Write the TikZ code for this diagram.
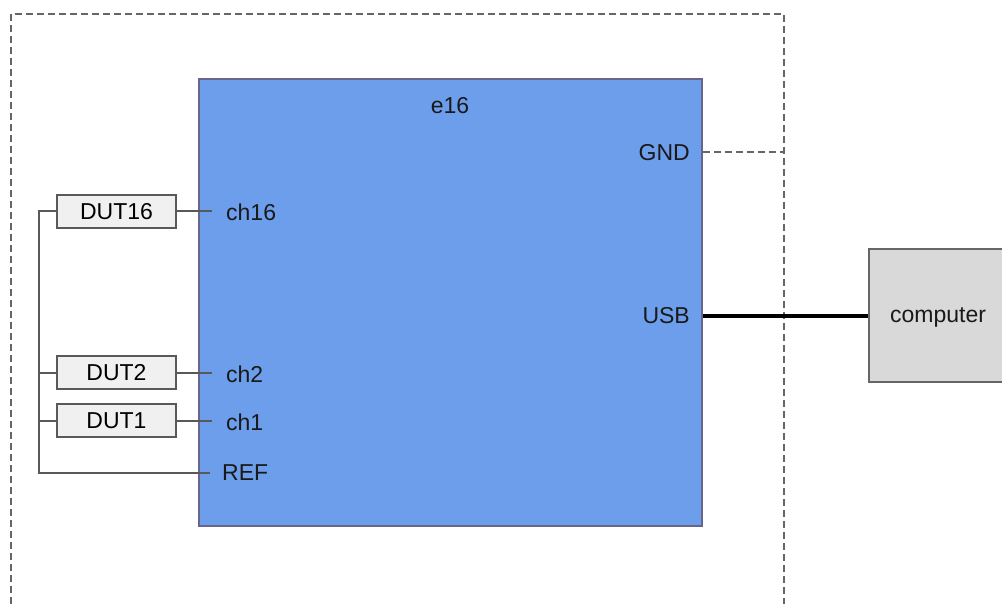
\documentclass[tikz,border=0pt]{standalone}
\usepackage{fontspec}
\setmainfont{Liberation Sans}
\begin{document}
\begin{tikzpicture}[x=1pt,y=-1pt,
  lbl/.style={inner sep=0pt,font=\fontsize{23}{27}\selectfont,text=black!90},
  dutbox/.style={draw=black!65,line width=2pt,fill=black!6,minimum width=119pt,minimum height=33pt,inner sep=0pt,font=\fontsize{23}{27}\selectfont},
  wire/.style={draw=black!65,line width=2pt},
  gnd/.style={draw=black!60,line width=1.6pt,dash pattern=on 7pt off 4pt},
]
\useasboundingbox (0,0) rectangle (1002,604);
% enclosure (open at bottom)
\coordinate (encBL) at (11,604);
\coordinate (encTL) at (11,14);
\coordinate (encTR) at (784,14);
\coordinate (encBR) at (784,604);
\draw[gnd] (encBL) -- (encTL) -- (encTR) -- (encBR);
% e16
\node[draw=black!75!blue!60,line width=2pt,fill={rgb,255:red,109;green,158;blue,235},minimum width=503pt,minimum height=447pt,inner sep=0pt,anchor=north west] (e16) at (198,78) {};
\node[lbl] (title) at (450,106) {e16};
% computer
\node[draw=black!60,line width=2pt,fill=black!15,minimum width=150pt,minimum height=133pt,inner sep=0pt,anchor=north west] (pc) at (868,248) {};
\node[lbl,anchor=west] (pctext) at (890,317) {computer};
% right side labels
\node[lbl,anchor=east] (gnd) at (690,153) {GND};
\node[lbl,anchor=east] (usb) at (690,316) {USB};
\coordinate (gndR) at (784,152);
\draw[gnd] (e16.east |- gndR) -- (gndR);
\draw[line width=4pt] (e16.east |- usb) -- (pc.west |- usb);
% channel labels
\node[lbl,anchor=west] (ch16) at (226,212) {ch16};
\node[lbl,anchor=west] (ch2) at (226,374) {ch2};
\node[lbl,anchor=west] (ch1) at (226,422) {ch1};
\node[lbl,anchor=west] (ref) at (222,473) {REF};
% DUTs
\node[dutbox] (dut16) at (116.5,211.5) {DUT16};
\node[dutbox] (dut2) at (116.5,372.5) {DUT2};
\node[dutbox] (dut1) at (116.5,420.5) {DUT1};
\coordinate (p16) at (212,211.5);
\coordinate (p2) at (212,372.5);
\coordinate (p1) at (212,420.5);
\coordinate (pref) at (210,473);
\coordinate (busTop) at (39,211.5);
\coordinate (busBot) at (39,473);
\draw[wire] (dut16.east) -- (p16);
\draw[wire] (dut2.east) -- (p2);
\draw[wire] (dut1.east) -- (p1);
\draw[wire] (dut16.west) -- (busTop) -- (busBot) -- (pref);
\draw[wire] (dut2.west) -- (busTop |- dut2.west);
\draw[wire] (dut1.west) -- (busTop |- dut1.west);
\end{tikzpicture}
\end{document}
